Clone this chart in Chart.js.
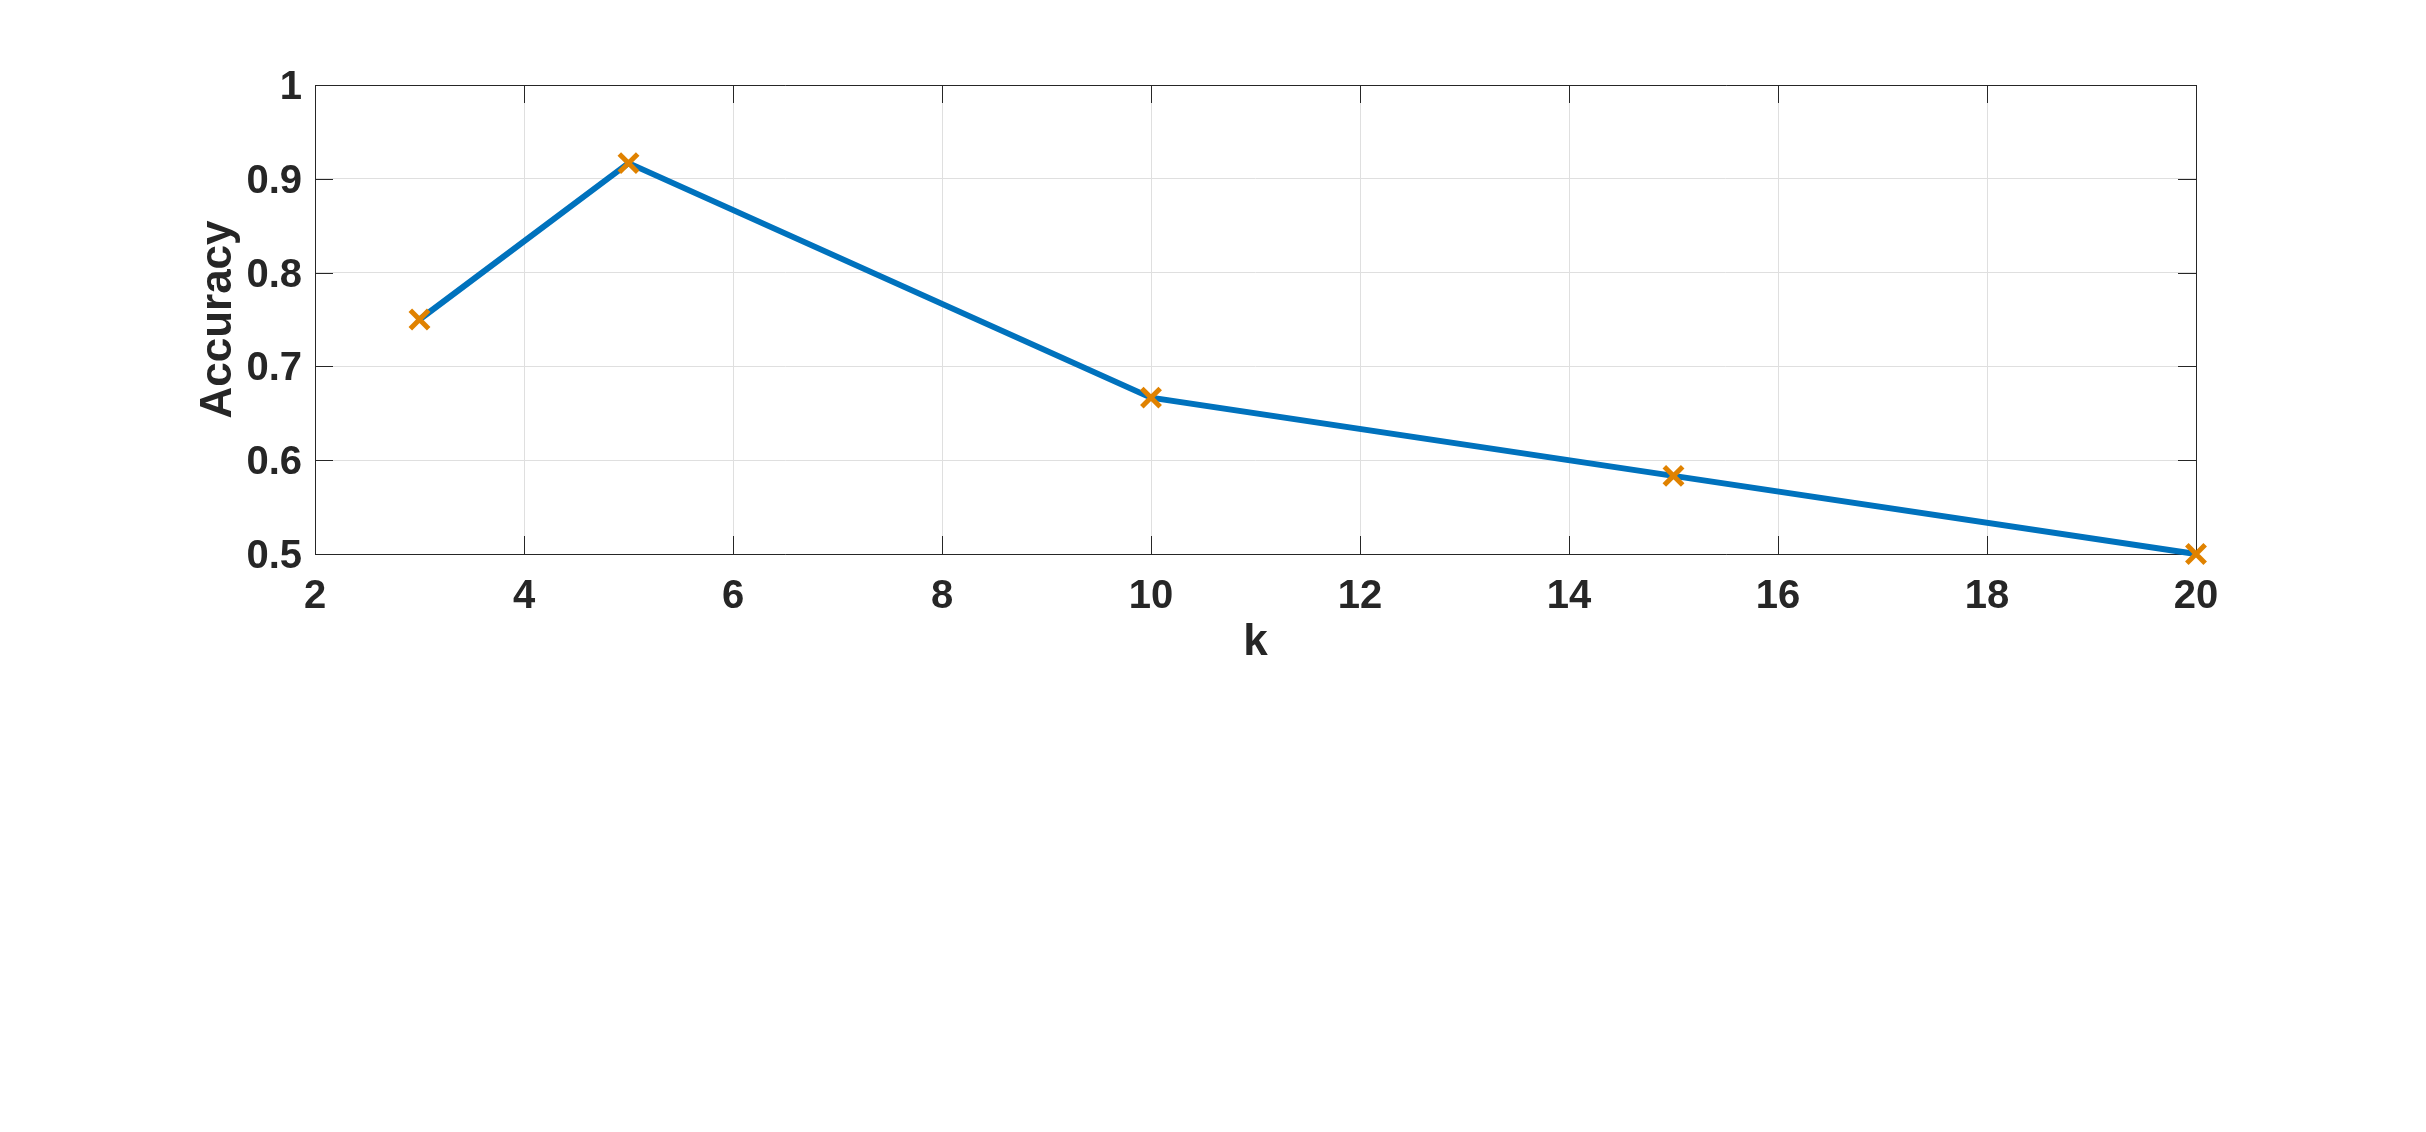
<!DOCTYPE html>
<html>
<head>
<meta charset="utf-8">
<script src="https://cdn.jsdelivr.net/npm/chart.js@4"></script>
<style>
  html, body { margin: 0; padding: 0; background: #ffffff; }
  canvas { display: block; }
</style>
</head>
<body>
<canvas id="c" width="2426" height="1132"></canvas>
<script>
const kValues = [3, 5, 10, 15, 20];
const accuracy = [0.75, 0.9167, 0.6667, 0.5833, 0.5];
const xTickValues = [2, 4, 6, 8, 10, 12, 14, 16, 18, 20];
const xTickLabels = ['2', '4', '6', '8', '10', '12', '14', '16', '18', '20'];
const yTickValues = [0.5, 0.6, 0.7, 0.8, 0.9, 1];
const yTickLabels = ['0.5', '0.6', '0.7', '0.8', '0.9', '1'];
const xTitle = 'k';
const yTitle = 'Accuracy';

const AXIS = '#262626';
const GRID = '#dfdfdf';
const FONT = '"Liberation Sans", Arial, Helvetica, sans-serif';

function labelFor(values, labels, v) {
  for (let i = 0; i < values.length; i++) {
    if (Math.abs(values[i] - v) < 1e-6) return labels[i];
  }
  return '';
}

const boxPlugin = {
  id: 'matlabBox',
  beforeDatasetsDraw(chart) {
    const ctx = chart.ctx;
    const a = chart.chartArea;
    const xs = chart.scales.x, ys = chart.scales.y;
    const L = 18;
    ctx.save();
    ctx.strokeStyle = AXIS;
    ctx.lineWidth = 1;
    ctx.beginPath();
    xTickValues.forEach(v => {
      const px = Math.round(xs.getPixelForValue(v)) + 0.5;
      ctx.moveTo(px, a.bottom); ctx.lineTo(px, a.bottom - L);
      ctx.moveTo(px, a.top); ctx.lineTo(px, a.top + L);
    });
    yTickValues.forEach(v => {
      const py = Math.round(ys.getPixelForValue(v)) + 0.5;
      ctx.moveTo(a.left, py); ctx.lineTo(a.left + L, py);
      ctx.moveTo(a.right, py); ctx.lineTo(a.right - L, py);
    });
    ctx.stroke();
    ctx.beginPath();
    ctx.rect(Math.round(a.left) + 0.5, Math.round(a.top) + 0.5,
             Math.round(a.right - a.left), Math.round(a.bottom - a.top));
    ctx.stroke();
    ctx.restore();
  }
};

new Chart(document.getElementById('c'), {
  type: 'line',
  data: {
    datasets: [{
      data: kValues.map((k, i) => ({ x: k, y: accuracy[i] })),
      borderColor: '#0072BD',
      borderWidth: 6,
      pointStyle: 'crossRot',
      pointRadius: 13,
      pointBorderWidth: 5,
      pointBorderColor: '#E08200',
      pointBackgroundColor: '#E08200',
      pointHoverRadius: 13,
      tension: 0,
      fill: false,
      clip: false
    }]
  },
  options: {
    responsive: false,
    animation: false,
    events: [],
    layout: { padding: { left: 180, top: 85, right: 230, bottom: 458 } },
    plugins: { legend: { display: false }, tooltip: { enabled: false } },
    scales: {
      x: {
        type: 'linear',
        min: 2, max: 20,
        afterFit(scale) { scale.height = 120; },
        afterBuildTicks(scale) { scale.ticks = xTickValues.map(v => ({ value: v })); },
        ticks: {
          color: AXIS,
          padding: 19,
          maxRotation: 0,
          font: { family: FONT, size: 40, weight: 'bold' },
          callback: v => labelFor(xTickValues, xTickLabels, v)
        },
        grid: { color: GRID, lineWidth: 1, drawTicks: false },
        border: { display: false },
        title: {
          display: true, text: xTitle, color: AXIS,
          font: { family: FONT, size: 44, weight: 'bold', lineHeight: 1 },
          padding: { top: 0, bottom: 9 }
        }
      },
      y: {
        type: 'linear',
        min: 0.5, max: 1,
        afterFit(scale) { scale.width = 135; },
        afterBuildTicks(scale) { scale.ticks = yTickValues.map(v => ({ value: v })); },
        ticks: {
          color: AXIS,
          padding: 13,
          labelOffset: 3,
          font: { family: FONT, size: 40, weight: 'bold' },
          callback: v => labelFor(yTickValues, yTickLabels, v)
        },
        grid: { color: GRID, lineWidth: 1, drawTicks: false },
        border: { display: false },
        title: {
          display: true, text: yTitle, color: AXIS,
          font: { family: FONT, size: 44, weight: 'bold', lineHeight: 1 },
          padding: { top: 17, bottom: 0 }
        }
      }
    }
  },
  plugins: [boxPlugin]
});
</script>
</body>
</html>
